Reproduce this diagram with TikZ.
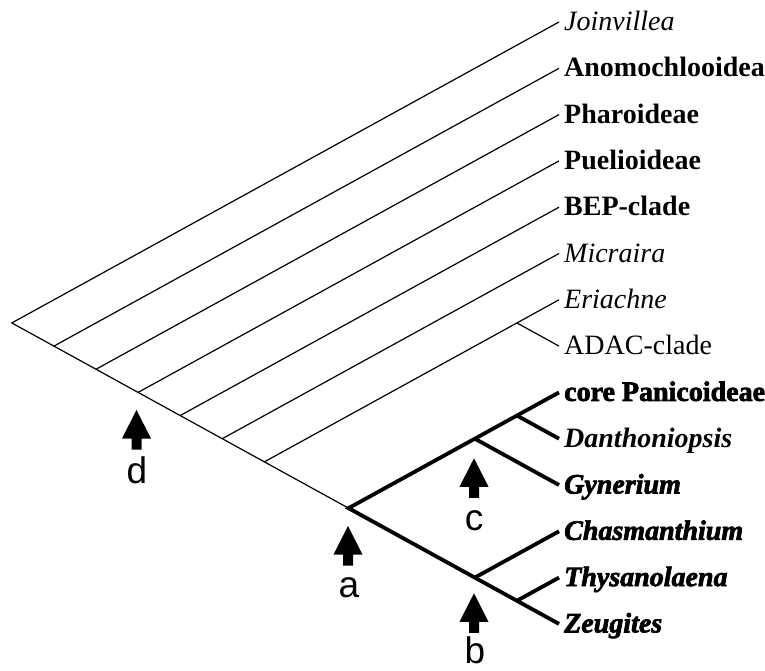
\documentclass[tikz,border=0pt]{standalone}
\usepackage{fontspec}
\setmainfont{Liberation Serif}
\newfontface\semiit{Liberation Serif Bold Italic}
\newfontface\heavybf[FakeBold=2.5]{Liberation Serif Bold}
\newfontface\heavybi[FakeBold=2.5]{Liberation Serif Bold Italic}
\newfontfamily\lblfont{Liberation Sans}
\begin{document}
\begin{tikzpicture}[x=1pt,y=-1pt,
  twig/.style={line width=1.2pt},
  boldtwig/.style={line width=3.8pt},
  taxon/.style={anchor=base west, inner sep=0pt, xshift=5pt, yshift=-8.5pt, font=\fontsize{28}{31}\selectfont},
  arrowlabel/.style={anchor=base, inner sep=0pt, font=\lblfont\fontsize{37}{40}\selectfont},
  uparrow/.pic={\fill (0,0) -- (14.5,28.5) -- (5,28.5) -- (5,39.5) -- (-5,39.5) -- (-5,28.5) -- (-14.5,28.5) -- cycle;}
]
\useasboundingbox (0,0) rectangle (765,671);
% tips
\coordinate (t0) at (559,22);
\coordinate (t1) at (559,68.3);
\coordinate (t2) at (559,114.6);
\coordinate (t3) at (559,160.9);
\coordinate (t4) at (559,207.2);
\coordinate (t5) at (559,253.5);
\coordinate (t6) at (559,299.8);
\coordinate (t7) at (559,346.1);
\coordinate (t8) at (559,392.4);
\coordinate (t9) at (559,438.7);
\coordinate (t10) at (559,485.0);
\coordinate (t11) at (559,531.3);
\coordinate (t12) at (559,577.6);
\coordinate (t13) at (559,623.9);
% internal nodes
\coordinate (n0) at (11.83,322.95);
\coordinate (n1) at (53.92,346.1);
\coordinate (n2) at (96.01,369.25);
\coordinate (n3) at (138.1,392.4);
\coordinate (n4) at (180.19,415.55);
\coordinate (n5) at (222.28,438.7);
\coordinate (n6) at (264.37,461.85);
\coordinate (nE) at (516.91,322.95);
\coordinate (nA) at (348.55,508.15);
\coordinate (nC) at (474.82,438.7);
\coordinate (nD) at (516.91,415.55);
\coordinate (nB) at (474.82,577.6);
\coordinate (nT) at (516.91,600.75);
% thin branches
\draw[twig] (t0) -- (n0) -- (nA);
\draw[twig] (n1) -- (t1);
\draw[twig] (n2) -- (t2);
\draw[twig] (n3) -- (t3);
\draw[twig] (n4) -- (t4);
\draw[twig] (n5) -- (t5);
\draw[twig] (n6) -- (nE) -- (t6);
\draw[twig] (nE) -- (t7);
% thick branches
\draw[boldtwig] (t8) -- (nD) -- (nC) -- (nA) -- (nB) -- (nT) -- (t13);
\draw[boldtwig] (nD) -- (t9);
\draw[boldtwig] (nC) -- (t10);
\draw[boldtwig] (nB) -- (t11);
\draw[boldtwig] (nT) -- (t12);
% labels
\node[taxon] (l0) at (t0) {\itshape Joinvillea};
\node[taxon] (l1) at (t1) {\bfseries Anomochlooidea};
\node[taxon] (l2) at (t2) {\bfseries Pharoideae};
\node[taxon] (l3) at (t3) {\bfseries Puelioideae};
\node[taxon] (l4) at (t4) {\bfseries BEP-clade};
\node[taxon] (l5) at (t5) {\itshape Micraira};
\node[taxon] (l6) at (t6) {\itshape Eriachne};
\node[taxon] (l7) at (t7) {ADAC-clade};
\node[taxon] (l8) at (t8) {\heavybf core Panicoideae};
\node[taxon] (l9) at (t9) {\semiit Danthoniopsis};
\node[taxon] (l10) at (t10) {\heavybi Gynerium};
\node[taxon] (l11) at (t11) {\heavybi Chasmanthium};
\node[taxon] (l12) at (t12) {\heavybi Thysanolaena};
\node[taxon] (l13) at (t13) {\heavybi Zeugites};
% arrows
\pic (ad) at (136.5,410) {uparrow};
\pic (aa) at (348,526) {uparrow};
\pic (ac) at (474,458.3) {uparrow};
\pic (ab) at (474,593.3) {uparrow};
\node[arrowlabel] (ld) at (137,483) {d};
\node[arrowlabel] (la) at (349,597) {a};
\node[arrowlabel] (lc) at (474,530) {c};
\node[arrowlabel] (lb) at (475,663) {b};
\end{tikzpicture}
\end{document}
